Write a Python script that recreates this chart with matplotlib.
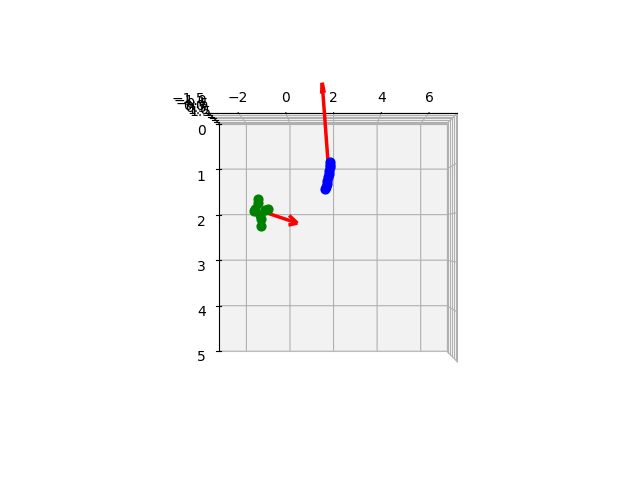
import matplotlib
matplotlib.use("Agg")
import matplotlib.pyplot as plt
import numpy as np

# Blue keypoints (x, height, depth)
blue_x = [1.86, 1.85, 1.83, 1.81, 1.78, 1.75, 1.72, 1.69, 1.66, 1.64]
blue_h = [0.0] * 10
blue_d = [0.91, 0.97, 1.03, 1.10, 1.17, 1.24, 1.31, 1.37, 1.43, 1.48]

# Green keypoints
green_x = [-1.32, -1.30, -1.45, -1.50, -0.90, -1.00, -1.23, -1.20, -1.18]
green_h = [0.0] * 9
green_d = [1.70, 1.78, 1.90, 1.95, 1.90, 1.93, 2.02, 2.12, 2.25]

# Orientation arrows: start and vector
blue_arrow_start = [1.77, 0.0, 1.00]
blue_arrow_vec = [-0.27, 0.0, -1.75]
green_arrow_start = [-1.15, 0.0, 1.95]
green_arrow_vec = [1.56, 0.0, 0.25]

xlim = (-3.25, 7.2)
hlim = (-1.5, 1.5)
dlim = (5.0, 0.0)

fig = plt.figure(figsize=(6.4, 4.8), dpi=100)
ax = fig.add_subplot(111, projection='3d')

ax.quiver(*blue_arrow_start, *blue_arrow_vec, color='red', linewidth=2.5,
          arrow_length_ratio=0.13)
ax.quiver(*green_arrow_start, *green_arrow_vec, color='red', linewidth=2.5,
          arrow_length_ratio=0.25)

ax.scatter(blue_x, blue_h, blue_d, c='blue', s=40, depthshade=False)
ax.scatter(green_x, green_h, green_d, c='green', s=40, depthshade=False)

ax.set_xlim(*xlim)
ax.set_ylim(*hlim)
ax.set_zlim(*dlim)
ax.set_xticks([-2, 0, 2, 4, 6])
ax.set_yticks([-1.5, -1.0, -0.5, 0.0, 0.5, 1.0, 1.5])
ax.set_zticks([0, 1, 2, 3, 4, 5])
ax.set_box_aspect((4, 3, 4))
ax.view_init(elev=0, azim=-90)

fig.savefig("out.png", dpi=100)
